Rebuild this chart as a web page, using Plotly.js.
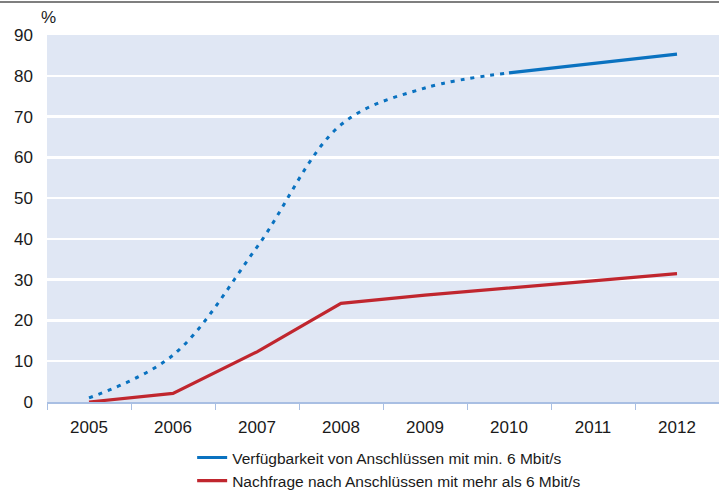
<!DOCTYPE html>
<html>
<head>
<meta charset="utf-8">
<script src="https://cdn.plot.ly/plotly-3.0.1.min.js"></script>
<style>html,body{margin:0;padding:0;background:#fff;}#chart{width:719px;height:491px;}</style>
</head>
<body>
<div id="chart"></div>
<script>
const years = ["2005","2006","2007","2008","2009","2010","2011","2012"];
const availYearsEst = ["2005","2006","2007","2008","2009","2010"];
const availEst = [1, 11.5, 38, 68, 77, 80.7];
const availYearsAct = ["2010","2011","2012"];
const availAct = [80.7, 83, 85.3];
const demand = [0, 2.1, 12.3, 24.2, 26.2, 27.9, 29.7, 31.5];
const nameAvail = "Verfügbarkeit von Anschlüssen mit min. 6 Mbit/s";
const nameDemand = "Nachfrage nach Anschlüssen mit mehr als 6 Mbit/s";

const blue = "#0a72c0";
const red = "#c0262e";

const traces = [
  {x: availYearsEst, y: availEst, type: "scatter", mode: "lines", line: {color: blue, width: 3, dash: "4px,6px", shape: "spline", smoothing: 1}, showlegend: false, hoverinfo: "skip"},
  {x: availYearsAct, y: availAct, type: "scatter", mode: "lines", name: nameAvail, line: {color: blue, width: 3.2}},
  {x: years, y: demand, type: "scatter", mode: "lines", name: nameDemand, line: {color: red, width: 3.2}}
];

const layout = {
  width: 719, height: 491,
  margin: {l: 47, r: 0, t: 35, b: 89, autoexpand: false},
  paper_bgcolor: "#ffffff",
  plot_bgcolor: "#e0e7f4",
  font: {family: "Liberation Sans, Arial, sans-serif", color: "#1a1a1a", size: 17},
  xaxis: {
    type: "category", categoryorder: "array", categoryarray: years,
    range: [-0.5, 7.5], tickson: "boundaries",
    ticks: "outside", ticklen: 6, tickcolor: "#a9bfe3", tickwidth: 1,
    showline: true, linecolor: "#a9bfe3", linewidth: 2,
    showgrid: false, fixedrange: true,
    ticklabelstandoff: 9,
    tickfont: {size: 17}
  },
  yaxis: {
    range: [0, 90], dtick: 10, tick0: 0,
    showgrid: true, gridcolor: "#ffffff", gridwidth: 2.5,
    zeroline: false, showline: false, ticks: "",
    ticklabelstandoff: 13,
    tickfont: {size: 17}
  },
  showlegend: true,
  legend: {
    orientation: "v", x: 0.216, xanchor: "left", y: -0.106, yanchor: "top",
    font: {size: 15.5}, bgcolor: "rgba(0,0,0,0)", tracegroupgap: 0, itemwidth: 30
  },
  shapes: [
    {type: "line", xref: "paper", yref: "paper", x0: -0.08, x1: 1.01, y0: 1.09, y1: 1.09, line: {color: "#555555", width: 1.5}}
  ],
  annotations: [
    {text: "%", xref: "paper", yref: "paper", x: 0.0015, y: 1.047, xanchor: "center", yanchor: "middle", showarrow: false, font: {size: 17}}
  ]
};

Plotly.newPlot("chart", traces, layout, {displayModeBar: false, staticPlot: true});
</script>
</body>
</html>
